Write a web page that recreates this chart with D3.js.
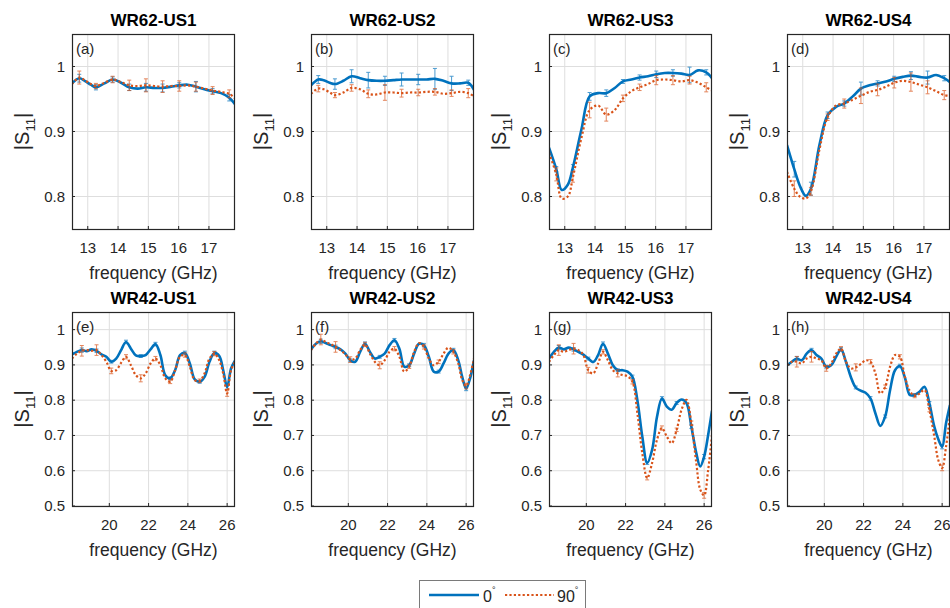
<!DOCTYPE html>
<html>
<head>
<meta charset="utf-8">
<script src="https://cdn.jsdelivr.net/npm/d3@7"></script>
<style>
  body { margin: 0; background: #fff; }
  svg { display: block; font-family: "Liberation Sans", Arial, Helvetica, sans-serif; }
  .tick-label { font-size: 15px; fill: #262626; }
  .axis-label { font-size: 17.5px; fill: #262626; }
  .ylab { font-size: 20px; fill: #262626; }
  .title { font-size: 17px; font-weight: bold; fill: #000; }
  .panel-letter { font-size: 15px; fill: #262626; }
</style>
</head>
<body>
<svg id="chart" width="950" height="608"></svg>
<script>
// frequency grids (GHz)
var freqWR62 = [12.48, 12.72, 12.9, 13.1, 13.27, 13.55, 13.82, 14.1, 14.37, 14.65, 14.92, 15.2, 15.47, 15.75, 16.02, 16.3, 16.57, 16.85, 17.12, 17.4, 17.67, 17.86];
var freqWR42 = [18.1, 18.35, 18.6, 18.85, 19.1, 19.35, 19.6, 19.85, 20.1, 20.35, 20.6, 20.85, 21.1, 21.35, 21.6, 21.85, 22.1, 22.35, 22.6, 22.85, 23.1, 23.35, 23.6, 23.85, 24.1, 24.35, 24.6, 24.85, 25.1, 25.35, 25.6, 25.8, 26.0, 26.2, 26.4];

// where the error bars sit (index into the grid)
var errIdxWR62 = [1, 4, 6, 8, 10, 12, 14, 16, 18, 20];
var errIdxWR42 = [2, 5, 8, 11, 14, 17, 20, 23, 26, 29, 32];

var titles = ['WR62-US1', 'WR62-US2', 'WR62-US3', 'WR62-US4', 'WR42-US1', 'WR42-US2', 'WR42-US3', 'WR42-US4'];
var letters = ['(a)', '(b)', '(c)', '(d)', '(e)', '(f)', '(g)', '(h)'];

var ticksWR62x = [13, 14, 15, 16, 17];
var ticksWR42x = [20, 22, 24, 26];
var ticksWR62y = [0.8, 0.9, 1];
var ticksWR42y = [0.5, 0.6, 0.7, 0.8, 0.9, 1];

// |S11| at 0 deg and 90 deg
var a0  = [0.974, 0.982, 0.978, 0.972, 0.968, 0.974, 0.980, 0.975, 0.968, 0.966, 0.968, 0.967, 0.967, 0.969, 0.971, 0.972, 0.969, 0.965, 0.962, 0.959, 0.952, 0.942];
var a90 = [0.973, 0.983, 0.979, 0.973, 0.970, 0.975, 0.980, 0.976, 0.971, 0.970, 0.971, 0.970, 0.969, 0.970, 0.970, 0.971, 0.969, 0.966, 0.963, 0.961, 0.958, 0.951];
var b0  = [0.971, 0.980, 0.979, 0.975, 0.973, 0.978, 0.985, 0.982, 0.979, 0.978, 0.978, 0.979, 0.980, 0.980, 0.980, 0.980, 0.981, 0.978, 0.974, 0.974, 0.975, 0.964];
var b90 = [0.958, 0.966, 0.965, 0.960, 0.956, 0.960, 0.967, 0.965, 0.958, 0.957, 0.960, 0.960, 0.959, 0.960, 0.960, 0.961, 0.961, 0.958, 0.959, 0.961, 0.959, 0.954];
var c0  = [0.875, 0.842, 0.810, 0.818, 0.845, 0.903, 0.954, 0.959, 0.959, 0.967, 0.977, 0.980, 0.983, 0.985, 0.988, 0.990, 0.990, 0.989, 0.987, 0.994, 0.991, 0.982];
var c90 = [0.867, 0.834, 0.797, 0.800, 0.830, 0.890, 0.933, 0.940, 0.926, 0.933, 0.951, 0.962, 0.968, 0.973, 0.979, 0.980, 0.979, 0.977, 0.979, 0.975, 0.968, 0.963];
var d0  = [0.879, 0.842, 0.817, 0.801, 0.812, 0.879, 0.925, 0.938, 0.943, 0.954, 0.966, 0.971, 0.974, 0.977, 0.981, 0.984, 0.986, 0.984, 0.983, 0.987, 0.982, 0.976];
var d90 = [0.838, 0.812, 0.800, 0.797, 0.808, 0.872, 0.922, 0.940, 0.943, 0.949, 0.955, 0.961, 0.964, 0.969, 0.975, 0.978, 0.976, 0.972, 0.968, 0.962, 0.956, 0.955];

var e0  = [0.930, 0.937, 0.942, 0.939, 0.944, 0.940, 0.930, 0.923, 0.909, 0.918, 0.942, 0.965, 0.946, 0.927, 0.925, 0.928, 0.944, 0.959, 0.928, 0.871, 0.862, 0.885, 0.928, 0.934, 0.904, 0.859, 0.852, 0.866, 0.909, 0.934, 0.925, 0.885, 0.837, 0.890, 0.912];
var e90 = [0.918, 0.932, 0.940, 0.942, 0.940, 0.942, 0.928, 0.909, 0.883, 0.885, 0.906, 0.923, 0.899, 0.871, 0.862, 0.876, 0.904, 0.918, 0.899, 0.862, 0.852, 0.885, 0.923, 0.928, 0.895, 0.857, 0.855, 0.876, 0.918, 0.932, 0.913, 0.875, 0.819, 0.885, 0.909];
var f0  = [0.944, 0.960, 0.967, 0.962, 0.956, 0.951, 0.944, 0.932, 0.913, 0.909, 0.937, 0.960, 0.937, 0.918, 0.923, 0.932, 0.956, 0.970, 0.946, 0.895, 0.899, 0.932, 0.960, 0.956, 0.923, 0.881, 0.881, 0.904, 0.932, 0.942, 0.913, 0.866, 0.833, 0.862, 0.913];
var f90 = [0.942, 0.960, 0.972, 0.965, 0.959, 0.951, 0.942, 0.930, 0.915, 0.918, 0.942, 0.958, 0.932, 0.909, 0.899, 0.913, 0.937, 0.946, 0.923, 0.881, 0.895, 0.937, 0.962, 0.951, 0.918, 0.899, 0.909, 0.932, 0.949, 0.937, 0.904, 0.857, 0.840, 0.871, 0.918];
var g0  = [0.918, 0.937, 0.949, 0.944, 0.949, 0.944, 0.937, 0.929, 0.918, 0.908, 0.928, 0.960, 0.932, 0.899, 0.885, 0.885, 0.881, 0.866, 0.800, 0.697, 0.622, 0.659, 0.753, 0.805, 0.782, 0.773, 0.792, 0.802, 0.792, 0.725, 0.650, 0.612, 0.640, 0.700, 0.770];
var g90 = [0.909, 0.928, 0.942, 0.937, 0.942, 0.946, 0.942, 0.928, 0.885, 0.876, 0.904, 0.937, 0.913, 0.885, 0.876, 0.871, 0.868, 0.852, 0.763, 0.650, 0.579, 0.622, 0.688, 0.721, 0.697, 0.678, 0.716, 0.773, 0.801, 0.735, 0.622, 0.547, 0.530, 0.600, 0.700];
var h0  = [0.899, 0.909, 0.918, 0.913, 0.932, 0.942, 0.928, 0.918, 0.895, 0.899, 0.923, 0.944, 0.909, 0.866, 0.836, 0.827, 0.821, 0.805, 0.763, 0.727, 0.754, 0.829, 0.885, 0.897, 0.865, 0.815, 0.815, 0.824, 0.838, 0.791, 0.725, 0.690, 0.668, 0.735, 0.786];
var h90 = [0.899, 0.909, 0.909, 0.904, 0.918, 0.923, 0.918, 0.913, 0.890, 0.904, 0.932, 0.946, 0.909, 0.890, 0.893, 0.902, 0.913, 0.909, 0.876, 0.819, 0.838, 0.895, 0.928, 0.923, 0.866, 0.827, 0.812, 0.819, 0.829, 0.773, 0.697, 0.631, 0.608, 0.669, 0.758];

// error bar half-lengths
var aErr0  = [0.006, 0.004, 0.004, 0.005, 0.006, 0.006, 0.004, 0.008, 0.004, 0.005];
var aErr90 = [0.010, 0.004, 0.005, 0.008, 0.010, 0.009, 0.008, 0.007, 0.006, 0.006];
var bErr0  = [0.006, 0.008, 0.010, 0.012, 0.007, 0.010, 0.008, 0.016, 0.011, 0.004];
var bErr90 = [0.005, 0.004, 0.005, 0.006, 0.012, 0.006, 0.005, 0.005, 0.005, 0.007];
var cErr0  = [0.004, 0.004, 0.006, 0.005, 0.003, 0.004, 0.005, 0.005, 0.012, 0.004];
var cErr90 = [0.010, 0.008, 0.012, 0.010, 0.005, 0.005, 0.007, 0.007, 0.006, 0.007];
var dErr0  = [0.012, 0.010, 0.005, 0.004, 0.010, 0.004, 0.004, 0.006, 0.010, 0.004];
var dErr90 = [0.012, 0.006, 0.005, 0.007, 0.012, 0.009, 0.008, 0.014, 0.010, 0.007];
var wr42Err0  = [0.006, 0.005, 0.004, 0.005, 0.004, 0.005, 0.004, 0.005, 0.004, 0.005, 0.006];
var wr42Err90 = [0.015, 0.015, 0.008, 0.006, 0.010, 0.006, 0.005, 0.006, 0.005, 0.006, 0.008];

var blue = '#0072BD', orange = '#D95319';

var panels = [
	{v0: a0, v90: a90, e0: aErr0, e90: aErr90},
	{v0: b0, v90: b90, e0: bErr0, e90: bErr90},
	{v0: c0, v90: c90, e0: cErr0, e90: cErr90},
	{v0: d0, v90: d90, e0: dErr0, e90: dErr90},
	{v0: e0, v90: e90, e0: wr42Err0, e90: wr42Err90},
	{v0: f0, v90: f90, e0: wr42Err0, e90: wr42Err90},
	{v0: g0, v90: g90, e0: wr42Err0, e90: wr42Err90},
	{v0: h0, v90: h90, e0: wr42Err0, e90: wr42Err90}
];

var svg = d3.select('#chart');
var lefts = [72, 311, 549, 787];
var pw = 163;
var rows = [
	{top: 34, bottom: 229, freq: freqWR62, xdom: [12.48, 17.86], ydom: [0.75, 1.05], xt: ticksWR62x, yt: ticksWR62y, idx: errIdxWR62},
	{top: 312, bottom: 506, freq: freqWR42, xdom: [18.1, 26.4], ydom: [0.5, 1.05], xt: ticksWR42x, yt: ticksWR42y, idx: errIdxWR42}
];

panels.forEach(function(p, i) {
	var row = rows[Math.floor(i / 4)];
	var left = lefts[i % 4];
	var x = d3.scaleLinear().domain(row.xdom).range([left, left + pw]);
	var y = d3.scaleLinear().domain(row.ydom).range([row.bottom, row.top]);
	var g = svg.append('g');

	g.append('clipPath').attr('id', 'clip' + i)
		.append('rect').attr('x', left).attr('y', row.top).attr('width', pw).attr('height', row.bottom - row.top);

	// grid
	g.selectAll('.gx').data(row.xt).enter().append('line')
		.attr('x1', function(d) { return x(d); }).attr('x2', function(d) { return x(d); })
		.attr('y1', row.top).attr('y2', row.bottom)
		.attr('stroke', '#dedede').attr('stroke-width', 1);
	g.selectAll('.gy').data(row.yt).enter().append('line')
		.attr('x1', left).attr('x2', left + pw)
		.attr('y1', function(d) { return y(d); }).attr('y2', function(d) { return y(d); })
		.attr('stroke', '#dedede').attr('stroke-width', 1);

	var plot = g.append('g').attr('clip-path', 'url(#clip' + i + ')');
	var line = d3.line()
		.x(function(d, k) { return x(row.freq[k]); })
		.y(function(d) { return y(d); })
		.curve(d3.curveCatmullRom.alpha(0.5));

	function errorBars(vals, errs, color) {
		var eb = plot.append('g').attr('stroke', color).attr('stroke-width', 1).attr('opacity', 0.7);
		row.idx.forEach(function(k, j) {
			var cx = x(row.freq[k]);
			var y1 = y(vals[k] - errs[j]), y2 = y(vals[k] + errs[j]);
			eb.append('line').attr('x1', cx).attr('x2', cx).attr('y1', y1).attr('y2', y2);
			eb.append('line').attr('x1', cx - 2).attr('x2', cx + 2).attr('y1', y1).attr('y2', y1);
			eb.append('line').attr('x1', cx - 2).attr('x2', cx + 2).attr('y1', y2).attr('y2', y2);
		});
	}

	plot.append('path').datum(p.v0)
		.attr('d', line).attr('fill', 'none')
		.attr('stroke', blue).attr('stroke-width', 2.6);
	errorBars(p.v0, p.e0, blue);
	plot.append('path').datum(p.v90)
		.attr('d', line).attr('fill', 'none')
		.attr('stroke', orange).attr('stroke-width', 2.2)
		.attr('stroke-dasharray', '2.2,2.2');
	errorBars(p.v90, p.e90, orange);

	// box + inner ticks
	g.append('rect').attr('x', left + 0.5).attr('y', row.top + 0.5)
		.attr('width', pw - 1).attr('height', row.bottom - row.top)
		.attr('fill', 'none').attr('stroke', '#262626').attr('stroke-width', 1.2);
	g.selectAll('.tx').data(row.xt).enter().append('line')
		.attr('x1', function(d) { return x(d); }).attr('x2', function(d) { return x(d); })
		.attr('y1', row.bottom).attr('y2', row.bottom - 3)
		.attr('stroke', '#262626');
	g.selectAll('.ty').data(row.yt).enter().append('line')
		.attr('x1', left).attr('x2', left + 3)
		.attr('y1', function(d) { return y(d); }).attr('y2', function(d) { return y(d); })
		.attr('stroke', '#262626');

	// tick labels
	g.selectAll('.lx').data(row.xt).enter().append('text')
		.attr('class', 'tick-label')
		.attr('x', function(d) { return x(d); }).attr('y', row.bottom + 24)
		.attr('text-anchor', 'middle')
		.text(function(d) { return d; });
	g.selectAll('.ly').data(row.yt).enter().append('text')
		.attr('class', 'tick-label')
		.attr('x', left - 7).attr('y', function(d) { return y(d) + 5; })
		.attr('text-anchor', 'end')
		.text(function(d) { return d3.format('~g')(d); });

	g.append('text').attr('class', 'axis-label')
		.attr('x', left + pw / 2).attr('y', row.bottom + 50)
		.attr('text-anchor', 'middle').text('frequency (GHz)');

	var yl = g.append('text').attr('class', 'ylab')
		.attr('text-anchor', 'middle')
		.attr('transform', 'translate(' + (left - 43) + ',' + ((row.top + row.bottom) / 2) + ') rotate(-90)');
	yl.append('tspan').text('|S');
	yl.append('tspan').attr('dy', 6).attr('font-size', '13px').text('11');
	yl.append('tspan').attr('dy', -6).text('|');

	g.append('text').attr('class', 'title')
		.attr('x', left + pw / 2).attr('y', row.top - 8)
		.attr('text-anchor', 'middle').text(titles[i]);

	g.append('text').attr('class', 'panel-letter')
		.attr('x', left + 4).attr('y', row.top + 20)
		.text(letters[i]);
});

// legend
var lg = svg.append('g');
lg.append('rect').attr('x', 419.5).attr('y', 580.5).attr('width', 166).attr('height', 34)
	.attr('fill', '#fff').attr('stroke', '#7a7a7a').attr('stroke-width', 1);
lg.append('line').attr('x1', 429).attr('x2', 479).attr('y1', 595).attr('y2', 595)
	.attr('stroke', blue).attr('stroke-width', 2.6);
var t0 = lg.append('text').attr('x', 483).attr('y', 602).attr('class', 'tick-label').style('font-size', '16px');
t0.append('tspan').text('0');
t0.append('tspan').attr('dy', -9).attr('font-size', '9px').text('°');
lg.append('line').attr('x1', 505).attr('x2', 554).attr('y1', 595).attr('y2', 595)
	.attr('stroke', orange).attr('stroke-width', 2.2).attr('stroke-dasharray', '2.2,2.2');
var t90 = lg.append('text').attr('x', 557).attr('y', 602).attr('class', 'tick-label').style('font-size', '16px');
t90.append('tspan').text('90');
t90.append('tspan').attr('dy', -9).attr('font-size', '9px').text('°');
</script>
</body>
</html>
